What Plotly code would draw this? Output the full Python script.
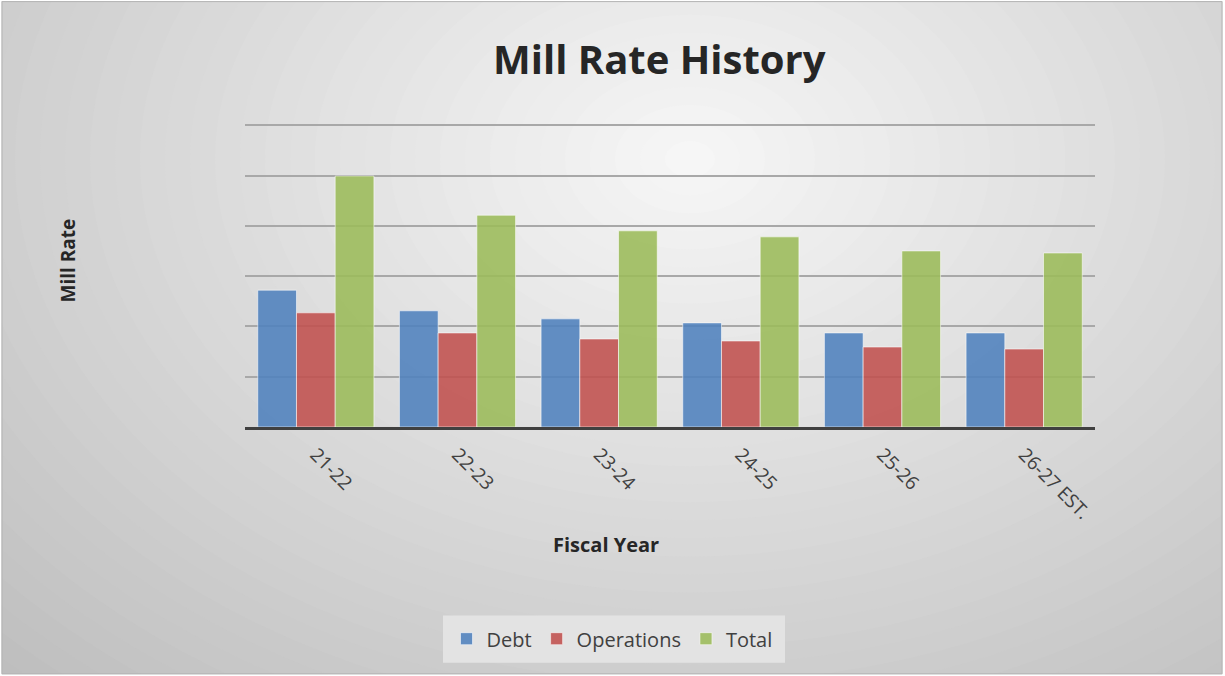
import plotly.graph_objects as go

categories = ["21-22", "22-23", "23-24", "24-25", "25-26", "26-27 EST."]
debt = [2.72, 2.31, 2.15, 2.07, 1.87, 1.87]
operations = [2.27, 1.87, 1.75, 1.71, 1.59, 1.55]
total = [4.99, 4.21, 3.90, 3.78, 3.50, 3.46]

W, H = 1225, 676
L, R, T, B = 245, 1095, 125, 427
YMAX = 6.0

def px(x):
    return (x - L) / (R - L)

def py(y):
    return (B - y) / (B - T)

fig = go.Figure()
line = dict(color="rgba(255,255,255,0.55)", width=1)
fig.add_trace(go.Bar(name="Debt", x=categories, y=debt,
                     marker=dict(color="rgba(79,129,189,0.88)", line=line)))
fig.add_trace(go.Bar(name="Operations", x=categories, y=operations,
                     marker=dict(color="rgba(192,80,77,0.88)", line=line)))
fig.add_trace(go.Bar(name="Total", x=categories, y=total,
                     marker=dict(color="rgba(155,187,89,0.88)", line=line)))

# radial background gradient
shapes = []
N = 40
cx, cy = 690, 160
Rx, Ry = 1000, 720
c_out, c_in = 190, 247
for i in range(N):
    t = 1 - i / N
    c = int(round(c_out + (c_in - c_out) * (1 - t)))
    shapes.append(dict(type="circle", xref="paper", yref="paper", layer="below",
                       x0=px(cx - Rx * t), x1=px(cx + Rx * t),
                       y0=py(cy + Ry * t), y1=py(cy - Ry * t),
                       fillcolor=f"rgb({c},{c},{c})", line=dict(width=0)))
# white margin outside the frame
for (x0, x1, y0, y1) in [(-5, W + 5, -5, 2.5), (-5, W + 5, 673.5, H + 5),
                         (-5, 1.5, -5, H + 5), (1222.5, W + 5, -5, H + 5)]:
    shapes.append(dict(type="rect", xref="paper", yref="paper", layer="below",
                       x0=px(x0), x1=px(x1), y0=py(y1), y1=py(y0),
                       fillcolor="white", line=dict(width=0)))
# frame
shapes.append(dict(type="rect", xref="paper", yref="paper", layer="above",
                   x0=px(2), x1=px(1222), y0=py(673), y1=py(3),
                   line=dict(color="#b4b4b4", width=1)))
# legend box
shapes.append(dict(type="rect", xref="paper", yref="paper", layer="below",
                   x0=px(443), x1=px(785), y0=py(662), y1=py(615),
                   fillcolor="#e3e3e3", line=dict(width=0)))

annotations = [
    dict(text="<b>Mill Rate History</b>", xref="paper", yref="paper",
         x=px(659), y=py(60), showarrow=False, xanchor="center", yanchor="middle",
         font=dict(size=40, color="#262626", family="Open Sans")),
    dict(text="<b>Fiscal Year</b>", xref="paper", yref="paper",
         x=px(606), y=py(544), showarrow=False, xanchor="center", yanchor="middle",
         font=dict(size=20, color="#262626", family="Open Sans")),
    dict(text="<b>Mill Rate</b>", xref="paper", yref="paper", textangle=-90,
         x=px(68), y=py(261), showarrow=False, xanchor="center", yanchor="middle",
         font=dict(size=19, color="#262626", family="Open Sans")),
]

fig.update_layout(
    width=W, height=H,
    margin=dict(l=L, r=W - R, t=T - 1, b=H - B),
    paper_bgcolor="white", plot_bgcolor="rgba(0,0,0,0)",
    barmode="group", bargap=0.18, bargroupgap=0,
    font=dict(family="Open Sans", color="#404040"),
    shapes=shapes, annotations=annotations,
    legend=dict(orientation="h", x=px(612), y=py(638), xanchor="center", yanchor="middle",
                bgcolor="rgba(0,0,0,0)", font=dict(size=20, color="#404040"),
                itemwidth=30, traceorder="normal"),
    xaxis=dict(tickangle=45, tickfont=dict(size=19, color="#404040"),
               showline=True, linecolor="#404040", linewidth=3,
               ticks="", showgrid=False, ticklabelstandoff=6),
    yaxis=dict(range=[0, YMAX * 1.004], tickvals=[1, 2, 3, 4, 5, 6],
               showticklabels=False, ticks="",
               showgrid=True, gridcolor="#a8a8a8", gridwidth=2,
               zeroline=False, showline=False),
)

fig.write_html("out.html", config={"displayModeBar": False},
               post_script="document.body.style.margin='0';")
